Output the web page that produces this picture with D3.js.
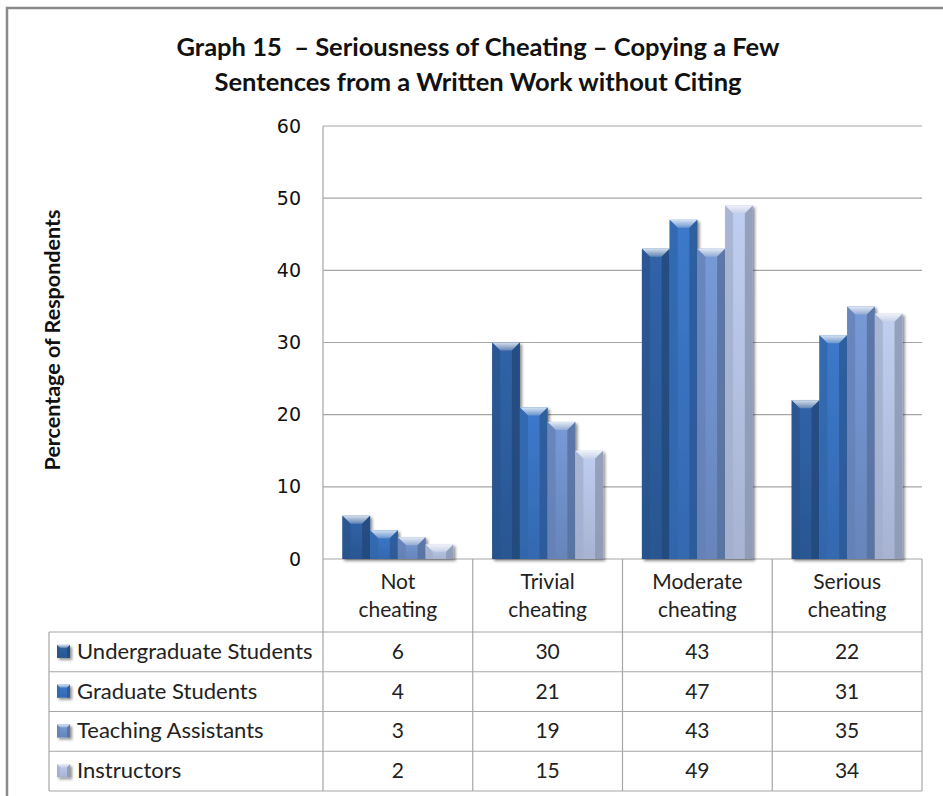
<!DOCTYPE html>
<html><head><meta charset="utf-8">
<script src="https://cdn.jsdelivr.net/npm/d3@7"></script>
<style>body{margin:0;background:#fff;}svg{display:block;}</style>
</head><body>
<script>
const categories = ["Not cheating", "Trivial cheating", "Moderate cheating", "Serious cheating"];
const categoryLines = [["Not", "cheating"], ["Trivial", "cheating"], ["Moderate", "cheating"], ["Serious", "cheating"]];
const seriesNames = ["Undergraduate Students", "Graduate Students", "Teaching Assistants", "Instructors"];
const undergrad = [6, 30, 43, 22];
const graduate = [4, 21, 47, 31];
const teachingAssistants = [3, 19, 43, 35];
const instructors = [2, 15, 49, 34];
const yTicks = [0, 10, 20, 30, 40, 50, 60];
const titleLines = ["Graph 15  \u2013 Seriousness of Cheating \u2013 Copying a Few", "Sentences from a Written Work without Citing"];
const yTitle = "Percentage of Respondents";
const seriesValues = [undergrad, graduate, teachingAssistants, instructors];
const seriesColors = ["#2d5c9c", "#3871bd", "#6f8fc8", "#b3c0e0"];

const W = 943, H = 796;
const svg = d3.select("body").append("svg").attr("width", W).attr("height", H);
const font = "Lato, 'Open Sans', sans-serif";

const pL = 323, pR = 922, pT = 126, pB = 559;
const x = d3.scaleBand().domain(categories).range([pL, pR]).paddingInner(0).paddingOuter(0);
const xs = d3.scaleBand().domain(seriesNames).range([0, x.bandwidth()]).paddingInner(0).paddingOuter(0.7);
const y = d3.scaleLinear().domain([0, 60]).range([pB, pT]);

const defs = svg.append("defs");
const flt = defs.append("filter").attr("id", "sh").attr("x", "-20%").attr("y", "-20%").attr("width", "150%").attr("height", "150%");
flt.append("feGaussianBlur").attr("in", "SourceAlpha").attr("stdDeviation", 1.6);
flt.append("feOffset").attr("dx", 2).attr("dy", 2).attr("result", "ob");
flt.append("feComponentTransfer").append("feFuncA").attr("type", "linear").attr("slope", 0.45);
const fm = flt.append("feMerge"); fm.append("feMergeNode"); fm.append("feMergeNode").attr("in", "SourceGraphic");

seriesColors.forEach((c, i) => {
  const g = defs.append("linearGradient").attr("id", "face" + i).attr("x1", 0).attr("x2", 0).attr("y1", 0).attr("y2", 1);
  g.append("stop").attr("offset", "0%").attr("stop-color", d3.color(c).brighter(0.2));
  g.append("stop").attr("offset", "100%").attr("stop-color", d3.color(c).darker(0.2));
  const t = defs.append("linearGradient").attr("id", "top" + i).attr("x1", 0).attr("x2", 0).attr("y1", 0).attr("y2", 1);
  t.append("stop").attr("offset", "0%").attr("stop-color", d3.interpolateRgb(c, "#ffffff")(0.8));
  t.append("stop").attr("offset", "100%").attr("stop-color", d3.interpolateRgb(c, "#ffffff")(0.25));
});

svg.append("path").attr("d", `M7,${H} V8 H${W}`).attr("fill", "none").attr("stroke", "#8a8a8a").attr("stroke-width", 2.5);

svg.append("g").selectAll("text").data(titleLines).join("text")
  .attr("x", 478).attr("y", (d, i) => 56 + i * 35)
  .style("white-space", "pre")
  .attr("text-anchor", "middle").attr("font-family", font).attr("font-weight", "bold")
  .attr("font-size", 25.5).attr("fill", "#111").text(d => d);

svg.append("g").selectAll("line").data(yTicks).join("line")
  .attr("x1", pL).attr("x2", pR).attr("y1", d => y(d)).attr("y2", d => y(d))
  .attr("stroke", "#a6a6a6").attr("stroke-width", 1.2);

const yAxis = svg.append("g").attr("transform", `translate(${pL},0)`)
  .call(d3.axisLeft(y).tickValues(yTicks).tickSize(0).tickPadding(22));
yAxis.select(".domain").remove();
yAxis.selectAll("text").attr("font-family", "'DejaVu Sans', sans-serif").attr("font-size", 19).attr("fill", "#111");

svg.append("text").attr("transform", `translate(60,${340}) rotate(-90)`)
  .attr("text-anchor", "middle").attr("font-family", font).attr("font-weight", "bold")
  .attr("font-size", 21.5).attr("fill", "#111").text(yTitle);

const tableLeft = 49, tableTop = 632, rowH = 39.75, tableBottom = tableTop + rowH * 4;
const tg = svg.append("g");
const lineCol = "#a6a6a6";
const bounds = categories.map(c => x(c)).concat([pR]);
tg.selectAll("line.v").data(bounds).join("line")
  .attr("x1", d => d).attr("x2", d => d).attr("y1", (d, i) => i === 0 ? pT : pB).attr("y2", tableBottom)
  .attr("stroke", lineCol).attr("stroke-width", 1.2);
const hl = [0, 1, 2, 3, 4].map(i => tableTop + i * rowH);
tg.selectAll("line.h").data(hl).join("line")
  .attr("x1", tableLeft).attr("x2", pR).attr("y1", d => d).attr("y2", d => d)
  .attr("stroke", lineCol).attr("stroke-width", 1.2);
tg.append("line").attr("x1", tableLeft).attr("x2", tableLeft).attr("y1", tableTop).attr("y2", tableBottom)
  .attr("stroke", lineCol).attr("stroke-width", 1.2);

categories.forEach((c, i) => {
  svg.append("g").selectAll("text").data(categoryLines[i]).join("text")
    .attr("x", x(c) + x.bandwidth() / 2).attr("y", (d, j) => 589 + j * 28)
    .attr("text-anchor", "middle").attr("font-family", font).attr("font-size", 21).attr("fill", "#222").text(d => d);
});

function bevelBar(g, x0, w, yTop, yBot, i, bmax) {
  const b = Math.min(bmax, w / 3, (yBot - yTop) / 2);
  const x1 = x0 + w;
  const c = seriesColors[i];
  const grp = g.append("g").attr("filter", "url(#sh)");
  grp.append("rect").attr("x", x0).attr("y", yTop).attr("width", w).attr("height", yBot - yTop).attr("fill", `url(#face${i})`);
  grp.append("path").attr("d", `M${x0},${yTop} L${x1},${yTop} L${x1 - b},${yTop + b} L${x0 + b},${yTop + b} Z`).attr("fill", `url(#top${i})`);
  grp.append("path").attr("d", `M${x0},${yTop} L${x0 + b},${yTop + b} L${x0 + b},${yBot} L${x0},${yBot} Z`).attr("fill", d3.color(c).darker(0.3)).attr("opacity", 0.75);
  grp.append("path").attr("d", `M${x1},${yTop} L${x1 - b},${yTop + b} L${x1 - b},${yBot} L${x1},${yBot} Z`).attr("fill", d3.color(c).darker(0.7)).attr("opacity", 0.8);
}
const barsG = svg.append("g");
seriesNames.forEach((s, i) => {
  categories.forEach((c, j) => {
    const v = seriesValues[i][j];
    bevelBar(barsG, x(c) + xs(s), xs.bandwidth(), y(v), y(0), i, 8);
  });
});

seriesNames.forEach((s, i) => {
  const cy = tableTop + rowH * i + rowH / 2;
  bevelBar(tg, 57, 13, cy - 7, cy + 6, i, 3);
  tg.append("text").attr("x", 77).attr("y", cy + 7).attr("font-family", font).attr("font-size", 22)
    .attr("fill", "#222").text(s);
  tg.selectAll(null).data(seriesValues[i]).join("text")
    .attr("x", (d, j) => x(categories[j]) + x.bandwidth() / 2).attr("y", cy + 7)
    .attr("text-anchor", "middle").attr("font-family", font).attr("font-size", 21).attr("fill", "#222").text(d => d);
});
</script>
</body></html>
